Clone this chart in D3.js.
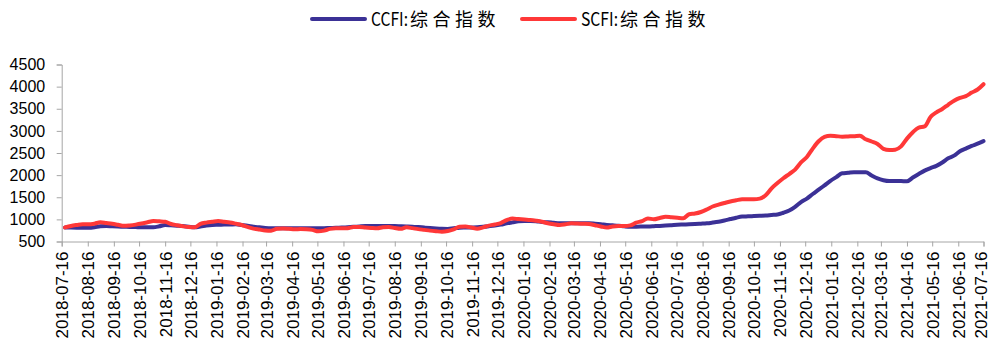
<!DOCTYPE html>
<html>
<head>
<meta charset="utf-8">
<script src="https://cdn.jsdelivr.net/npm/d3@7"></script>
<style>
  html, body { margin: 0; padding: 0; background: #fff; }
  svg { display: block; }
  .y-axis .tick text { font-family: "Liberation Sans", Arial, sans-serif; font-size: 16px; fill: #000; }
  .x-axis .tick text { font-family: "Liberation Sans", Arial, sans-serif; font-size: 17px; fill: #000; }
  .legend text { font-family: "Noto Sans CJK SC", sans-serif; font-size: 18px; fill: #000; }
</style>
</head>
<body>
<svg id="chart" width="990" height="346"></svg>
<script>
// Weekly index readings, first week ending 2018-07-20, last 2021-07-16
const firstWeek = "2018-07-20";

const seriesCodes = ["CCFI:", "SCFI:"];
const seriesTitle = "综合指数";

const ccfi = [
  818, 814, 812, 812, 812, 823, 845, 848, 843, 838, 834, 829, 825, 821, 821, 821,
  843, 873, 865, 857, 848, 835, 822, 837, 860, 874, 878, 882, 886, 887, 871, 855,
  832, 820, 808, 800, 798, 798, 798, 798, 798, 798, 798, 798, 801, 805, 808, 814,
  823, 831, 840, 848, 850, 850, 850, 850, 849, 845, 841, 836, 826, 815, 804, 795,
  788, 785, 798, 811, 815, 818, 822, 832, 846, 862, 883, 909, 932, 955, 963, 963,
  958, 941, 934, 922, 912, 911, 911, 911, 911, 911, 902, 890, 874, 866, 857, 843,
  835, 835, 837, 840, 846, 853, 861, 869, 878, 883, 888, 894, 902, 911, 928, 948,
  975, 1007, 1038, 1063, 1069, 1075, 1082, 1088, 1100, 1111, 1150, 1200, 1285, 1390, 1470, 1573,
  1670, 1770, 1870, 1955, 2041, 2052, 2064, 2064, 2064, 1990, 1925, 1885, 1867, 1867, 1865, 1860,
  1945, 2025, 2102, 2160, 2210, 2285, 2380, 2440, 2540, 2600, 2660, 2710, 2770
];

const scfi = [
  818, 852, 873, 889, 889, 904, 933, 917, 900, 877, 854, 864, 881, 905, 934, 963,
  955, 946, 895, 869, 846, 827, 820, 897, 927, 945, 963, 946, 930, 903, 873, 830,
  791, 769, 749, 745, 788, 793, 786, 775, 780, 776, 763, 730, 746, 786, 798, 798,
  802, 828, 826, 815, 806, 799, 821, 827, 803, 786, 820, 802, 780, 763, 746, 733,
  722, 736, 775, 832, 838, 816, 790, 820, 860, 886, 917, 983, 1019, 1006, 995, 986,
  969, 947, 913, 891, 875, 890, 910, 906, 901, 896, 868, 840, 815, 838, 850, 850,
  864, 926, 960, 1021, 1002, 1031, 1060, 1047, 1035, 1025, 1116, 1132, 1167, 1224, 1291, 1332,
  1370, 1405, 1431, 1454, 1454, 1454, 1468, 1545, 1700, 1820, 1930, 2025, 2125, 2286, 2410, 2600,
  2765, 2865, 2890, 2880, 2870, 2875, 2880, 2890, 2810, 2760, 2705, 2595, 2568, 2575, 2650, 2825,
  2970, 3075, 3100, 3315, 3420, 3495, 3590, 3680, 3745, 3785, 3865, 3935, 4054
];

const yTicks = [500, 1000, 1500, 2000, 2500, 3000, 3500, 4000, 4500];

const xTickLabels = [
  "2018-07-16", "2018-08-16", "2018-09-16", "2018-10-16", "2018-11-16", "2018-12-16",
  "2019-01-16", "2019-02-16", "2019-03-16", "2019-04-16", "2019-05-16", "2019-06-16",
  "2019-07-16", "2019-08-16", "2019-09-16", "2019-10-16", "2019-11-16", "2019-12-16",
  "2020-01-16", "2020-02-16", "2020-03-16", "2020-04-16", "2020-05-16", "2020-06-16",
  "2020-07-16", "2020-08-16", "2020-09-16", "2020-10-16", "2020-11-16", "2020-12-16",
  "2021-01-16", "2021-02-16", "2021-03-16", "2021-04-16", "2021-05-16", "2021-06-16",
  "2021-07-16"
];

const colors = ["#3b3196", "#ff3838"];

// ---------------------------------------------------------------
const parse = d3.timeParse("%Y-%m-%d");
const fmt = d3.timeFormat("%Y-%m-%d");
const start = parse(firstWeek);
const dates = ccfi.map((_, i) => d3.timeDay.offset(start, 7 * i));
const tickDates = xTickLabels.map(parse);

const svg = d3.select("#chart");
const plot = { left: 61.7, right: 983.5, top: 64.5, bottom: 241.5 };

const x = d3.scaleTime()
  .domain([tickDates[0], tickDates[tickDates.length - 1]])
  .range([plot.left, plot.right]);

const y = d3.scaleLinear()
  .domain([500, 4500])
  .range([plot.bottom, plot.top]);

const axisColor = "#a6a6a6";

// y axis
const yAxis = svg.append("g")
  .attr("class", "y-axis")
  .attr("transform", `translate(${plot.left},0)`)
  .call(d3.axisLeft(y).tickValues(yTicks).tickSize(5).tickPadding(11.5).tickFormat(d3.format("d")));
yAxis.select(".domain").attr("stroke", axisColor);
yAxis.selectAll(".tick line").attr("stroke", axisColor);

// x axis with vertical date labels
const xAxis = svg.append("g")
  .attr("class", "x-axis")
  .attr("transform", `translate(0,${plot.bottom})`)
  .call(d3.axisBottom(x).tickValues(tickDates).tickSize(5).tickFormat(fmt));
xAxis.select(".domain").attr("stroke", axisColor);
xAxis.selectAll(".tick line").attr("stroke", axisColor);
const lastTick = tickDates.length - 1;
xAxis.selectAll(".tick text")
  .attr("transform", "rotate(-90)")
  .attr("x", -10)
  .attr("y", 0)
  .attr("dy", (d, i) => i === lastTick ? "0.17em" : "0.35em")
  .attr("text-anchor", "end");

// series lines
const line = d3.line()
  .x((d, i) => x(dates[i]))
  .y(d => y(d))
  .curve(d3.curveMonotoneX);

[ccfi, scfi].forEach((s, k) => {
  svg.append("path")
    .datum(s)
    .attr("fill", "none")
    .attr("stroke", colors[k])
    .attr("stroke-width", 4)
    .attr("stroke-linejoin", "round")
    .attr("stroke-linecap", "round")
    .attr("d", line);
});

// legend: swatch line, narrow latin code, spaced chinese title
const legend = svg.append("g").attr("class", "legend");
const legendX = [312, 522];
seriesCodes.forEach((code, k) => {
  const g = legend.append("g").attr("transform", `translate(${legendX[k]},19)`);
  g.append("line")
    .attr("x1", 0).attr("x2", 53)
    .attr("stroke", colors[k])
    .attr("stroke-width", 4)
    .attr("stroke-linecap", "round");
  const t = g.append("text")
    .attr("y", 0)
    .attr("dy", "0.38em");
  t.append("tspan")
    .attr("x", 59)
    .attr("textLength", 37)
    .attr("lengthAdjust", "spacingAndGlyphs")
    .text(code);
  t.append("tspan")
    .attr("x", 98)
    .attr("letter-spacing", "4.5px")
    .text(seriesTitle);
});
</script>
</body>
</html>
